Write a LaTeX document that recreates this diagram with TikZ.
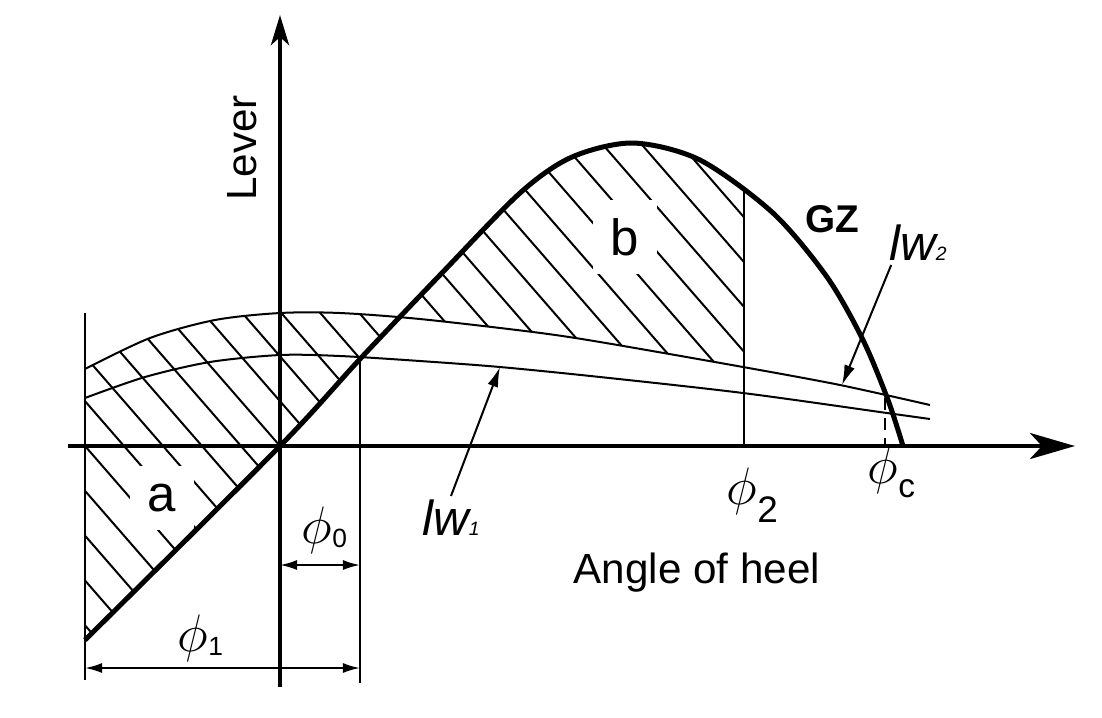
\documentclass[tikz,border=0pt]{standalone}
\usepackage{fix-cm}
\usepackage{fontspec}
\setmainfont{Liberation Sans}
\usetikzlibrary{arrows.meta}

\tikzset{
  axis/.style={line width=0.45mm},
  gzline/.style={line width=0.5mm},
  lwline/.style={line width=0.2mm},
  guide/.style={line width=0.2mm},
  hatch/.style={line width=0.2mm},
  dim/.style={draw,line width=0.2mm,{Latex[length=1.7mm,width=1mm]}-{Latex[length=1.7mm,width=1mm]}},
  pointer/.style={draw,line width=0.2mm,-{Latex[length=2mm,width=1.1mm]}},
}

\newcommand{\gzpath}{plot[smooth] coordinates {(85,640) (280,446) (360,359) (440,275) (520,193) (572,157) (633,143) (700,160) (773,213) (827,277) (863,340) (888,400) (903,446)}}
\newcommand{\upath}{plot[smooth] coordinates {(85,369) (150,338) (215,320) (280,313) (340,313) (420,319) (533,332) (600,342) (743,367) (840,385) (930,405)}}
\newcommand{\lpath}{plot[smooth] coordinates {(85,398) (145,377) (210,362) (280,355) (340,356) (420,361) (500,367) (600,377) (743,393) (887,413) (930,419)}}
\newcommand{\phil}[3]{$\phi$\raisebox{#3}{\fontsize{#2}{#2}\selectfont #1}}

\begin{document}
\begin{tikzpicture}[x=0.01cm,y=-0.01cm]
  \useasboundingbox (0,0) rectangle (1102,717);

  \begin{scope}
    \clip (85,0) rectangle (400,717);
    \clip \upath -- (930,717) -- (85,717) -- cycle;
    \clip \gzpath -- (903,0) -- (85,0) -- cycle;
    \foreach \x in {-71,-32,...,1021}
      \draw[hatch] ({\x-301},100) -- ({\x+221},700);
  \end{scope}

  \begin{scope}
    \clip (400,0) rectangle (743,717);
    \clip \upath -- (930,0) -- (85,0) -- cycle;
    \clip \gzpath -- (903,717) -- (85,717) -- cycle;
    \foreach \x in {-71,-32,...,1021}
      \draw[hatch] ({\x-301},100) -- ({\x+221},700);
  \end{scope}

  \begin{scope}[every node/.style={fill=white,inner sep=1.8mm,font=\fontsize{14.5}{16}\selectfont}]
    \node (a) at (162,498) {a};
    \node (b) at (625,237) {b};
  \end{scope}

  \draw[guide] (85,313) -- (85,680);
  \draw[guide] (360,358) -- (360,683);
  \draw[guide] (744,188) -- (744,446);
  \draw[guide,dash pattern=on 1.2mm off 0.8mm] (885,398) -- (885,446);

  \draw[lwline] \upath;
  \draw[lwline] \lpath;
  \draw[gzline] \gzpath;

  \draw[axis,-{Stealth[length=4.5mm,width=2.6mm,inset=1.2mm]}] (68,446) -- (1075,446);
  \draw[axis,-{Stealth[length=3mm,width=1.8mm,inset=0.8mm]}] (280,687) -- (280,15);

  \begin{scope}[every node/.style={font=\fontsize{12}{14}\selectfont}]
    \node[rotate=90] (lever) at (242,148) {Lever};
    \node (heel) at (697,573) {Angle of heel};
    \node[font=\fontsize{11}{13}\selectfont\bfseries] (gz) at (832,219) {GZ};
  \end{scope}

  \begin{scope}[every node/.style={inner sep=1pt,font=\fontsize{14}{16}\selectfont\itshape}]
    \node (lw1) at (451,518) {lw{\fontsize{5.5}{6}\selectfont 1}};
    \node (lw2) at (918,243) {lw{\fontsize{5.5}{6}\selectfont 2}};
  \end{scope}

  \begin{scope}[every node/.style={anchor=base west,inner sep=0pt,font=\fontsize{15}{17}\selectfont}]
    \node (p0) at (301,543) {\phil{0}{7.5}{-0.4mm}};
    \node (p1) at (177,651) {\phil{1}{7.5}{-0.4mm}};
    \node (p2) at (726,504) {\phil{2}{10.5}{-1.8mm}};
    \node (pc) at (867,483) {\phil{c}{9.5}{-1.4mm}};
  \end{scope}

  \coordinate (d1a) at (85,668);
  \coordinate (d1b) at (360,668);
  \coordinate (d0a) at (280,565);
  \coordinate (d0b) at (360,565);
  \coordinate (w1tip) at (500,367);
  \coordinate (w2tip) at (842,385);

  \path (d1a) edge[dim] (d1b);
  \path (d0a) edge[dim] (d0b);
  \path (lw1.north) edge[pointer] (w1tip);
  \path ([xshift=0.6mm]lw2.south west) edge[pointer] (w2tip);

\end{tikzpicture}
\end{document}
